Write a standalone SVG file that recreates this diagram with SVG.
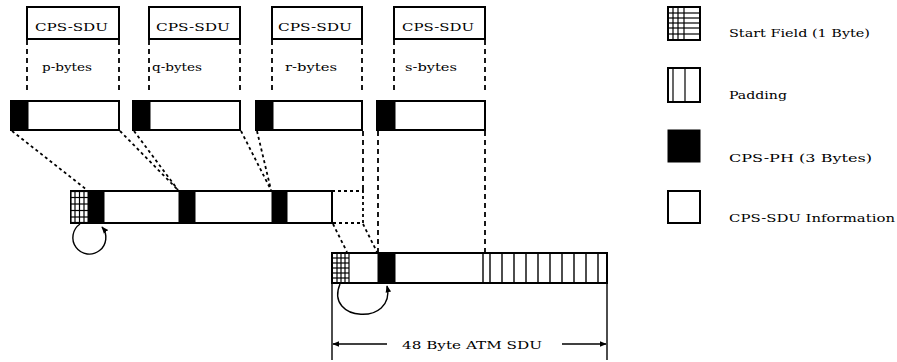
<svg xmlns="http://www.w3.org/2000/svg" width="897" height="362" viewBox="0 0 897 362">
<defs>
<style>
.box{fill:#fff;stroke:#000;stroke-width:2}
.blk{fill:#000;stroke:#000;stroke-width:1}
.dash{fill:none;stroke:#000;stroke-width:1.8;stroke-dasharray:5 4}
.dot{fill:none;stroke:#000;stroke-width:1.8;stroke-dasharray:3 3}
.ln{fill:none;stroke:#000;stroke-width:1.4}
.thin{stroke:#000;stroke-width:1.2}
.t{font-family:"DejaVu Serif","Liberation Serif",serif;font-size:11px;fill:#000}
</style>
<marker id="ah" viewBox="0 0 10 10" refX="9" refY="5" markerWidth="7" markerHeight="7" orient="auto" markerUnits="userSpaceOnUse">
<path d="M0,1 L10,5 L0,9 Z" fill="#000"/>
</marker>
</defs>
<rect width="897" height="362" fill="#fff"/>

<g id="sdu-p">
<rect class="box" x="27" y="7" width="92" height="32"/>
<text class="t" x="35" y="31" textLength="73" lengthAdjust="spacingAndGlyphs">CPS-SDU</text>
<text class="t" x="42" y="71" textLength="50" lengthAdjust="spacingAndGlyphs">p-bytes</text>
<line class="dash" x1="27" y1="40" x2="27" y2="94"/>
<line class="dash" x1="119" y1="40" x2="119" y2="94"/>
<rect class="box" x="11" y="101" width="108" height="29"/>
<rect class="blk" x="11" y="101" width="17" height="29"/>
</g>

<g id="sdu-q">
<rect class="box" x="149" y="7" width="91" height="32"/>
<text class="t" x="156" y="31" textLength="74" lengthAdjust="spacingAndGlyphs">CPS-SDU</text>
<text class="t" x="152" y="71" textLength="50" lengthAdjust="spacingAndGlyphs">q-bytes</text>
<line class="dash" x1="149" y1="40" x2="149" y2="94"/>
<line class="dash" x1="240" y1="40" x2="240" y2="94"/>
<rect class="box" x="133" y="101" width="107" height="29"/>
<rect class="blk" x="133" y="101" width="17" height="29"/>
</g>

<g id="sdu-r">
<rect class="box" x="272" y="7" width="90" height="32"/>
<text class="t" x="278" y="31" textLength="74" lengthAdjust="spacingAndGlyphs">CPS-SDU</text>
<text class="t" x="285" y="71" textLength="52" lengthAdjust="spacingAndGlyphs">r-bytes</text>
<line class="dash" x1="272" y1="40" x2="272" y2="94"/>
<line class="dash" x1="362" y1="40" x2="362" y2="94"/>
<rect class="box" x="256" y="101" width="106" height="29"/>
<rect class="blk" x="256" y="101" width="17" height="29"/>
</g>

<g id="sdu-s">
<rect class="box" x="394" y="7" width="91" height="32"/>
<text class="t" x="402" y="31" textLength="72" lengthAdjust="spacingAndGlyphs">CPS-SDU</text>
<text class="t" x="405" y="71" textLength="52" lengthAdjust="spacingAndGlyphs">s-bytes</text>
<line class="dash" x1="394" y1="40" x2="394" y2="94"/>
<line class="dash" x1="485" y1="40" x2="485" y2="94"/>
<rect class="box" x="377" y="101" width="108" height="29"/>
<rect class="blk" x="377" y="101" width="18" height="29"/>
</g>

<g id="cell-1">
<rect class="box" x="71" y="191" width="261" height="32"/>
<rect fill="#fff" x="71" y="191" width="17" height="32"/>
<g class="thin">
<line x1="71" y1="191" x2="71" y2="223"/><line x1="75" y1="191" x2="75" y2="223"/><line x1="79.5" y1="191" x2="79.5" y2="223"/><line x1="84" y1="191" x2="84" y2="223"/>
<line x1="71" y1="191.5" x2="88" y2="191.5"/><line x1="71" y1="197.5" x2="88" y2="197.5"/><line x1="71" y1="204" x2="88" y2="204"/><line x1="71" y1="210.5" x2="88" y2="210.5"/><line x1="71" y1="217" x2="88" y2="217"/><line x1="71" y1="222.5" x2="88" y2="222.5"/>
</g>
<rect class="blk" x="88" y="191" width="16" height="32"/>
<rect class="blk" x="179" y="191" width="16" height="32"/>
<rect class="blk" x="272" y="191" width="15" height="32"/>
<path class="dot" d="M332,191 H363 V223 H332"/>
</g>

<g id="cell-2">
<rect class="box" x="332" y="253" width="275" height="30"/>
<g class="thin">
<line x1="332" y1="253" x2="332" y2="283"/><line x1="337" y1="253" x2="337" y2="283"/><line x1="341" y1="253" x2="341" y2="283"/><line x1="345" y1="253" x2="345" y2="283"/><line x1="349" y1="253" x2="349" y2="283"/>
<line x1="332" y1="258" x2="349" y2="258"/><line x1="332" y1="263" x2="349" y2="263"/><line x1="332" y1="268" x2="349" y2="268"/><line x1="332" y1="273" x2="349" y2="273"/><line x1="332" y1="278" x2="349" y2="278"/>
</g>
<rect class="blk" x="378" y="253" width="17" height="30"/>
<g class="ln">
<line x1="483" y1="253" x2="483" y2="283"/><line x1="490" y1="253" x2="490" y2="283"/><line x1="502" y1="253" x2="502" y2="283"/><line x1="514" y1="253" x2="514" y2="283"/><line x1="526" y1="253" x2="526" y2="283"/><line x1="538" y1="253" x2="538" y2="283"/><line x1="550" y1="253" x2="550" y2="283"/><line x1="562" y1="253" x2="562" y2="283"/><line x1="574" y1="253" x2="574" y2="283"/><line x1="586" y1="253" x2="586" y2="283"/><line x1="598" y1="253" x2="598" y2="283"/>
</g>
</g>

<g id="connectors">
<line class="dot" x1="12" y1="131" x2="87" y2="190"/>
<line class="dot" x1="120" y1="131" x2="178" y2="190"/>
<line class="dot" x1="134" y1="131" x2="178" y2="190"/>
<line class="dot" x1="241" y1="131" x2="271" y2="190"/>
<line class="dot" x1="257" y1="131" x2="271" y2="190"/>
<line class="dash" x1="363" y1="131" x2="363" y2="191"/>
<line class="dash" x1="378" y1="131" x2="378" y2="252"/>
<line class="dash" x1="485" y1="131" x2="485" y2="252"/>
<line class="dot" x1="333" y1="224" x2="347" y2="252"/>
<line class="dot" x1="363" y1="224" x2="377" y2="252"/>
<path class="ln" d="M80,224 A16.5 16.5 0 1 0 102,227" marker-end="url(#ah)"/>
<path class="ln" d="M340,284 C324,322 396,326 387,286" marker-end="url(#ah)"/>
</g>

<g id="dimension">
<line class="ln" x1="332" y1="283" x2="332" y2="360"/>
<line class="ln" x1="607" y1="283" x2="607" y2="360"/>
<line class="ln" x1="387" y1="344" x2="333" y2="344" marker-end="url(#ah)"/>
<line class="ln" x1="562" y1="344" x2="606" y2="344" marker-end="url(#ah)"/>
<text class="t" x="402" y="349" textLength="140" lengthAdjust="spacingAndGlyphs">48 Byte ATM SDU</text>
</g>

<g id="legend">
<g id="legend-start">
<rect class="box" x="668" y="7" width="32" height="33" stroke-width="2.4"/>
<g class="thin">
<line x1="673" y1="7" x2="673" y2="40"/><line x1="678" y1="7" x2="678" y2="40"/><line x1="684" y1="7" x2="684" y2="40"/>
<line x1="668" y1="13" x2="700" y2="13"/><line x1="668" y1="18" x2="700" y2="18"/><line x1="668" y1="23" x2="700" y2="23"/><line x1="668" y1="28" x2="700" y2="28"/><line x1="668" y1="34" x2="700" y2="34"/>
</g>
<text class="t" x="729" y="37" textLength="141" lengthAdjust="spacingAndGlyphs">Start Field (1 Byte)</text>
</g>
<g id="legend-padding">
<rect class="box" x="668" y="68" width="32" height="34" stroke-width="2.4"/>
<line class="thin" x1="673" y1="68" x2="673" y2="102"/>
<line class="thin" x1="685" y1="68" x2="685" y2="102"/>
<text class="t" x="729" y="99" textLength="58" lengthAdjust="spacingAndGlyphs">Padding</text>
</g>
<g id="legend-ph">
<rect class="blk" x="668" y="130" width="32" height="32"/>
<text class="t" x="729" y="162" textLength="143" lengthAdjust="spacingAndGlyphs">CPS-PH (3 Bytes)</text>
</g>
<g id="legend-info">
<rect class="box" x="668" y="191" width="32" height="32" stroke-width="2.4"/>
<text class="t" x="729" y="222" textLength="166" lengthAdjust="spacingAndGlyphs">CPS-SDU Information</text>
</g>
</g>
</svg>
